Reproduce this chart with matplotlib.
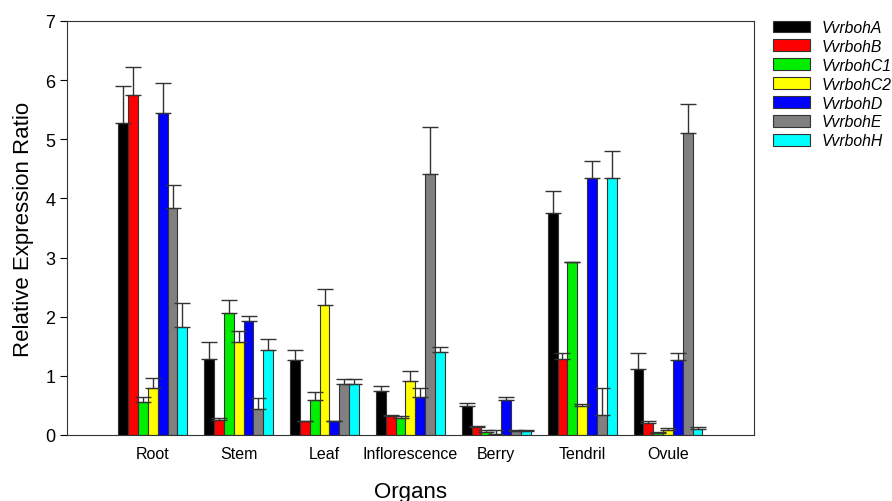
import matplotlib
matplotlib.use("Agg")
import matplotlib.pyplot as plt
import numpy as np

plt.rcParams["font.family"] = ["Liberation Sans", "DejaVu Sans"]

organs = ["Root", "Stem", "Leaf", "Inflorescence", "Berry", "Tendril", "Ovule"]
genes = ["VvrbohA", "VvrbohB", "VvrbohC1", "VvrbohC2", "VvrbohD", "VvrbohE", "VvrbohH"]
colors = ["#000000", "#ff0000", "#00ee00", "#ffff00", "#0000ff", "#808080", "#00ffff"]

# mean expression per gene, one value per organ
vals = {
    "VvrbohA": [5.27, 1.29, 1.26, 0.74, 0.49, 3.75, 1.11],
    "VvrbohB": [5.75, 0.26, 0.23, 0.32, 0.14, 1.29, 0.21],
    "VvrbohC1": [0.55, 2.07, 0.60, 0.29, 0.05, 2.92, 0.04],
    "VvrbohC2": [0.79, 1.58, 2.19, 0.91, 0.01, 0.49, 0.08],
    "VvrbohD": [5.45, 1.93, 0.23, 0.65, 0.59, 4.35, 1.27],
    "VvrbohE": [3.83, 0.44, 0.86, 4.41, 0.06, 0.34, 5.11],
    "VvrbohH": [1.82, 1.44, 0.86, 1.41, 0.06, 4.35, 0.10],
}
# upper error (SE)
errs = {
    "VvrbohA": [0.63, 0.29, 0.18, 0.08, 0.05, 0.38, 0.28],
    "VvrbohB": [0.48, 0.02, 0.01, 0.02, 0.02, 0.09, 0.03],
    "VvrbohC1": [0.10, 0.22, 0.13, 0.03, 0.03, 0.01, 0.01],
    "VvrbohC2": [0.17, 0.17, 0.27, 0.18, 0.08, 0.04, 0.04],
    "VvrbohD": [0.50, 0.08, 0.01, 0.15, 0.05, 0.28, 0.11],
    "VvrbohE": [0.40, 0.18, 0.09, 0.80, 0.02, 0.46, 0.49],
    "VvrbohH": [0.41, 0.19, 0.09, 0.08, 0.02, 0.46, 0.04],
}

fig = plt.figure(figsize=(8.92, 5.02), dpi=100)
ax = fig.add_axes([0.0751, 0.1315, 0.770, 0.8247])

x = np.arange(len(organs))
w = 0.1147
for i, g in enumerate(genes):
    pos = x + (i - 3) * w
    v = np.array(vals[g])
    e = np.array(errs[g])
    ax.bar(pos, v, width=w, color=colors[i], edgecolor="#333333", linewidth=0.8,
           label=g, zorder=2)
    ax.errorbar(pos, v, yerr=[np.zeros_like(e), e], fmt="none", ecolor="#333333",
                elinewidth=1.0, capsize=6, capthick=1.0, zorder=3)

ax.set_xlim(-1, 7)
ax.set_ylim(0, 7)
ax.set_xticks(x)
ax.set_xticklabels(organs, fontsize=11.5)
ax.tick_params(axis="x", length=0, pad=8)
ax.tick_params(axis="y", direction="out", length=5, labelsize=13)
ax.set_yticks(range(8))
ax.set_xlabel("Organs", fontsize=16, labelpad=14)
ax.set_ylabel("Relative Expression Ratio", fontsize=16, labelpad=8)
for s in ax.spines.values():
    s.set_linewidth(0.8)
    s.set_color("#333333")

leg = ax.legend(loc="upper left", bbox_to_anchor=(1.019, 1.018), frameon=False,
                prop={"style": "italic", "size": 11.3}, handlelength=2.36,
                handleheight=0.76, labelspacing=0.25, handletextpad=0.7,
                borderaxespad=0)

fig.savefig("out.png", dpi=100)
